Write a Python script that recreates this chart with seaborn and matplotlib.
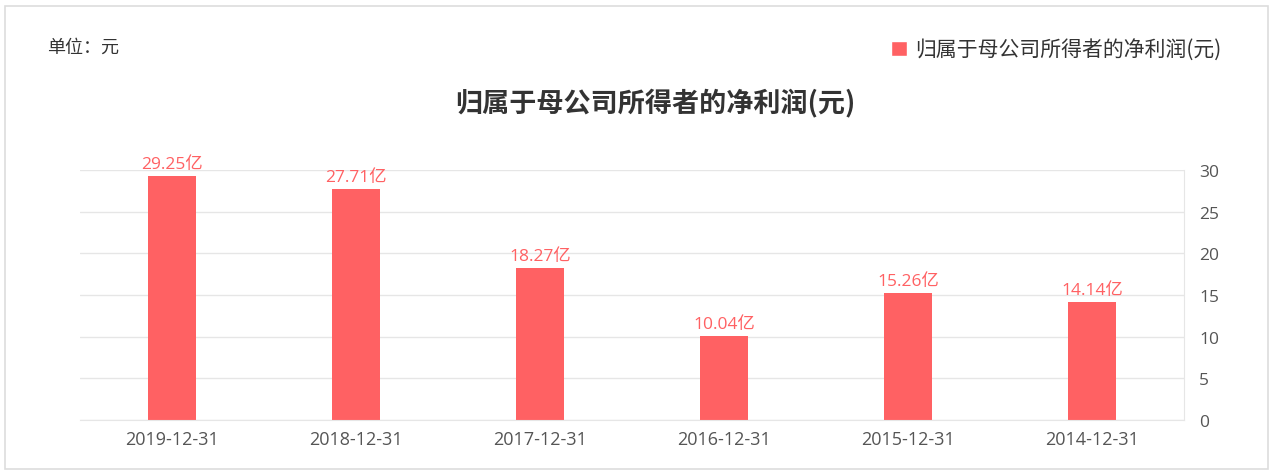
import pandas as pd
import matplotlib
matplotlib.use("Agg")
import matplotlib.pyplot as plt
import seaborn as sns
from matplotlib.patches import Rectangle, Patch

# 数据
dates = ["2019-12-31", "2018-12-31", "2017-12-31", "2016-12-31", "2015-12-31", "2014-12-31"]
profit = [29.25, 27.71, 18.27, 10.04, 15.26, 14.14]   # 单位：亿元
yticks = [0, 5, 10, 15, 20, 25, 30]

series_name = "归属于母公司所得者的净利润(元)"
bar_color = "#FF6163"
num_font = ['Open Sans', 'Noto Sans CJK SC']

sns.set_style("white")
plt.rcParams['font.family'] = ['Noto Sans CJK SC', 'DejaVu Sans']

df = pd.DataFrame({"日期": dates, "净利润": profit})

fig = plt.figure(figsize=(12.73, 4.77), dpi=100)
ax = fig.add_axes([80/1273, 1-421/477, 1104/1273, 250/477])

sns.barplot(data=df, x="日期", y="净利润", ax=ax, color=bar_color,
            width=0.26, saturation=1, edgecolor="none")

ax.set_ylim(0, 30)
ax.set_xlim(-0.5, len(dates)-0.5)
ax.set_yticks(yticks)
ax.yaxis.tick_right()
ax.yaxis.set_label_position("right")
ax.grid(axis="y", color="#e6e6e6", linewidth=1)
ax.set_axisbelow(True)
ax.set_xlabel("")
ax.set_ylabel("")
ax.tick_params(axis="both", length=0, colors="#555555")
ax.tick_params(axis="x", pad=7)
ax.tick_params(axis="y", pad=11)
for lbl in ax.get_xticklabels():
    lbl.set_family(num_font)
    lbl.set_fontsize(13)
for lbl in ax.get_yticklabels():
    lbl.set_family(num_font)
    lbl.set_fontsize(12.5)
for s in ["left", "top"]:
    ax.spines[s].set_visible(False)
ax.spines["right"].set_color("#e6e6e6")
ax.spines["bottom"].set_color("#e6e6e6")

for c in ax.containers:
    ax.bar_label(c, labels=[f"{v:.2f}亿" for v in profit], color=bar_color,
                 fontsize=12.5, padding=3, family=num_font)

fig.text(655/1273, 1-103/477, series_name, ha="center", va="center",
         fontsize=19.5, fontweight="bold", color="#333333")
fig.text(47/1273, 1-48/477, "单位：元", ha="left", va="center",
         fontsize=13, color="#333333")

leg = fig.legend(handles=[Patch(facecolor=bar_color, label=series_name)],
                 loc="center right", bbox_to_anchor=(1232/1273, 1-51/477),
                 frameon=False, fontsize=15, handlelength=0.75, handleheight=0.75,
                 handletextpad=0.4, borderpad=0)
for t in leg.get_texts():
    t.set_color("#333333")

fig.patches.append(Rectangle((5/1273, 7/477), 1263/1273, 463/477,
                             transform=fig.transFigure, fill=False,
                             edgecolor="#dddddd", linewidth=1.2))

fig.savefig("out.png", dpi=100)
